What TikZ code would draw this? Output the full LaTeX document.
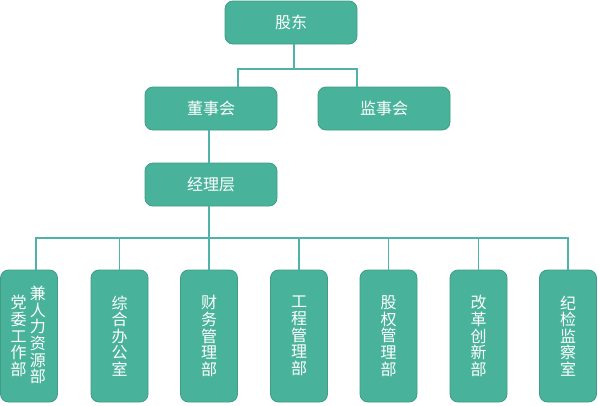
\documentclass[tikz,border=0pt]{standalone}
\usepackage{fontspec}
\newfontfamily\cjk{Noto Sans CJK SC}
\definecolor{boxfill}{HTML}{48B39A}
\definecolor{boxline}{HTML}{3F9C86}
\definecolor{conn}{HTML}{4DB3AB}
\begin{document}
\begin{tikzpicture}[x=1pt,y=-1pt,
  box/.style={draw=boxline,line width=0.8pt,fill=boxfill,rounded corners=8pt},
  lbl/.style={text=white,font=\cjk\fontsize{16}{16.6}\selectfont,inner sep=0pt,align=center},
  link/.style={draw=conn,line width=1.2pt}]
\useasboundingbox (0,0) rectangle (598,405);
% top level
\draw[box] (225,1) rectangle (357,44);
\node[lbl] (gd) at (291,22.5) {股东};
\coordinate (gdb) at (294,44);
\draw[box] (145,87) rectangle (277,130);
\node[lbl] (dsh) at (211,108.5) {董事会};
\draw[box] (318,87) rectangle (450,130);
\node[lbl] (jsh) at (384,108.5) {监事会};
\draw[box] (145,163) rectangle (277,206);
\node[lbl] (jlc) at (211,184.5) {经理层};
% connectors top
\coordinate (j1) at (294,69);
\coordinate (dl) at (238,69);
\coordinate (dr) at (357,69);
\coordinate (dlb) at (238,87);
\coordinate (drb) at (357,87);
\draw[link] (gdb) -- (j1);
\draw[link] (dlb) -- (dl) -- (dr) -- (drb);
\coordinate (dsb) at (209,130);
\coordinate (jlt) at (209,163);
\draw[link] (dsb) -- (jlt);
% bottom boxes
\foreach \i/\cx in {1/29,2/119.5,3/209,4/299,5/388.5,6/478.5,7/568}{
  \draw[box] (\cx-28.5,270) rectangle (\cx+28.5,402);
}
\node[lbl] (b1a) at (38,335) {兼\\人\\力\\资\\源\\部};
\node[lbl] (b1b) at (18.5,336) {党\\委\\工\\作\\部};
\node[lbl] (b2) at (119.5,336) {综\\合\\办\\公\\室};
\node[lbl] (b3) at (209,336) {财\\务\\管\\理\\部};
\node[lbl] (b4) at (299,336) {工\\程\\管\\理\\部};
\node[lbl] (b5) at (388.5,336) {股\\权\\管\\理\\部};
\node[lbl] (b6) at (478.5,336) {改\\革\\创\\新\\部};
\node[lbl] (b7) at (568,336) {纪\\检\\监\\察\\室};
% bottom connectors
\coordinate (jlb) at (209,206);
\coordinate (hb) at (209,238);
\draw[link] (jlb) -- (hb);
\draw[link] (36,270) -- (36,238) -- (568,238) -- (568,270);
\foreach \x in {119.5,299,388.5,478.5}{
  \draw[link] (\x,238) -- (\x,270);
}
\draw[link] (209,238) -- (209,270);
\end{tikzpicture}
\end{document}
